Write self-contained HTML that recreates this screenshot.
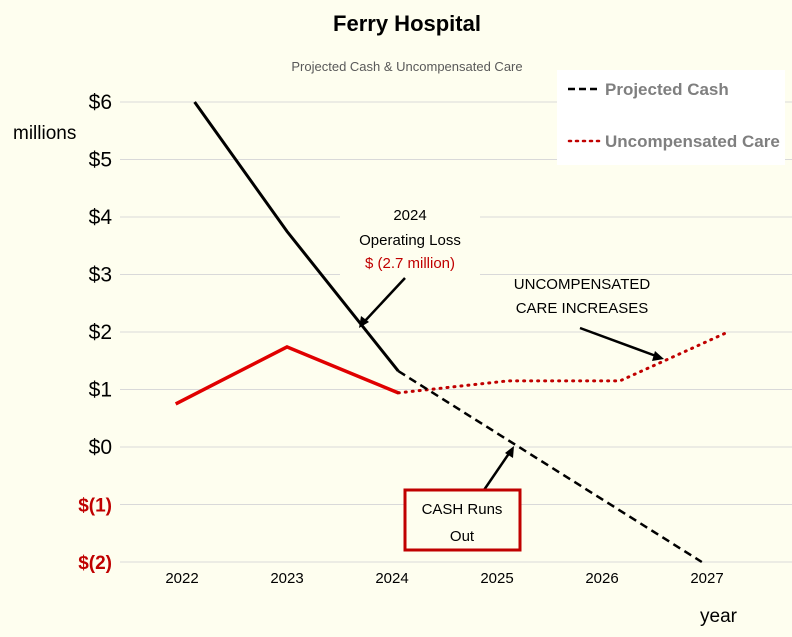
<!DOCTYPE html>
<html><head><meta charset="utf-8"><style>
body{margin:0;background:#fefeef;}
svg{display:block;font-family:"Liberation Sans",sans-serif;}
</style></head><body>
<svg id="c" width="792" height="637" viewBox="0 0 792 637">
<rect width="792" height="637" fill="#fefeef"/>
<text x="407" y="31" text-anchor="middle" font-size="22" font-weight="bold" fill="#000">Ferry Hospital</text>
<text x="407" y="71" text-anchor="middle" font-size="13" fill="#595959">Projected Cash &amp; Uncompensated Care</text>
<g id="grid"></g>
<g id="yt"></g>
<g id="xt"></g>
<text x="13" y="139" font-size="19" fill="#000">millions</text>
<text x="700" y="622" font-size="19" fill="#000">year</text>
<g id="series"></g>
<rect x="557" y="70" width="228" height="95" fill="#ffffff"/>
<line x1="568" y1="89" x2="600" y2="89" stroke="#000" stroke-width="2.5" stroke-dasharray="7,4"/>
<text x="605" y="95" font-size="17" font-weight="bold" fill="#7f7f7f">Projected Cash</text>
<line x1="569" y1="141" x2="603" y2="141" stroke="#c00000" stroke-width="2.5" stroke-dasharray="2,5" stroke-linecap="round"/>
<text x="605" y="147" font-size="17" font-weight="bold" fill="#7f7f7f">Uncompensated Care</text>
<g>
<rect x="340" y="200" width="140" height="75" fill="#fefeef"/>
<text x="410" y="220" text-anchor="middle" font-size="15" fill="#000">2024</text>
<text x="410" y="245" text-anchor="middle" font-size="15" fill="#000">Operating Loss</text>
<text x="410" y="268" text-anchor="middle" font-size="15" fill="#c00000">$ (2.7 million)</text>
<line x1="405" y1="278" x2="364" y2="322" stroke="#000" stroke-width="2.5"/>
<polygon points="359,328 361,316 369,322" fill="#000"/>
</g>
<g>
<text x="582" y="289" text-anchor="middle" font-size="15" fill="#000">UNCOMPENSATED</text>
<text x="582" y="313" text-anchor="middle" font-size="15" fill="#000">CARE INCREASES</text>
<line x1="580" y1="328" x2="656" y2="356" stroke="#000" stroke-width="2.5"/>
<polygon points="664,359 652,361 655,351" fill="#000"/>
</g>
<g>
<line x1="484" y1="490" x2="510" y2="452" stroke="#000" stroke-width="2.5"/>
<polygon points="514,446 513,458 505,453" fill="#000"/>
<rect x="405" y="490" width="115" height="60" fill="#fefeef" stroke="#c00000" stroke-width="3"/>
<text x="462" y="514" text-anchor="middle" font-size="15" fill="#000">CASH Runs</text>
<text x="462" y="541" text-anchor="middle" font-size="15" fill="#000">Out</text>
</g>
</svg>
<script>
const yTicks=[6,5,4,3,2,1,0,-1,-2];
const yLabels=["$6","$5","$4","$3","$2","$1","$0","$(1)","$(2)"];
const xCats=[2022,2023,2024,2025,2026,2027];
const cashActualX=[2022.12,2023,2024.06];
const cashActualY=[6,3.75,1.32];
const cashProjX=[2024.06,2026.95];
const cashProjY=[1.32,-2.0];
const uncompActualX=[2021.94,2023,2024.06];
const uncompActualY=[0.75,1.74,0.94];
const uncompProjX=[2024.06,2025.1,2026.17,2027.2];
const uncompProjY=[0.94,1.15,1.15,2.0];
const NS="http://www.w3.org/2000/svg";
function yS(v){return 447-v*57.5;}
function xS(y){return 182+(y-2022)*105;}
function mk(t,p,a){const e=document.createElementNS(NS,t);for(const k in a)e.setAttribute(k,a[k]);document.getElementById(p).appendChild(e);return e;}
yTicks.forEach((v,i)=>{
 const g=mk('line','grid',{x1:120,x2:792,y1:yS(v),y2:yS(v),stroke:'#d9d9d9','stroke-width':1});
 
 
 const neg=v<0;
 const t=mk('text','yt',{x:112,y:yS(v)+7,'text-anchor':'end','font-size':neg?19:21,'font-weight':neg?'bold':'normal',fill:neg?'#c00000':'#000'});
 t.textContent=yLabels[i];
 
 
});
xCats.forEach(c=>{
 const t=mk('text','xt',{x:xS(c),y:583,'text-anchor':'middle','font-size':15,fill:'#000'});
 t.textContent=c;
 
 
});
function path(xs,ys){return xs.map((x,i)=>(i?'L':'M')+xS(x).toFixed(1)+','+yS(ys[i]).toFixed(1)).join('');}
let p;
p=mk('path','series',{d:path(uncompActualX,uncompActualY),fill:'none',stroke:'#e00000','stroke-width':3.5});


p=mk('path','series',{d:path(uncompProjX,uncompProjY),fill:'none',stroke:'#c00000','stroke-width':3,'stroke-dasharray':'1,6','stroke-linecap':'round'});


p=mk('path','series',{d:path(cashActualX,cashActualY),fill:'none',stroke:'#000','stroke-width':3});


p=mk('path','series',{d:path(cashProjX,cashProjY),fill:'none',stroke:'#000','stroke-width':2.5,'stroke-dasharray':'8,5'});


</script>
</body></html>
